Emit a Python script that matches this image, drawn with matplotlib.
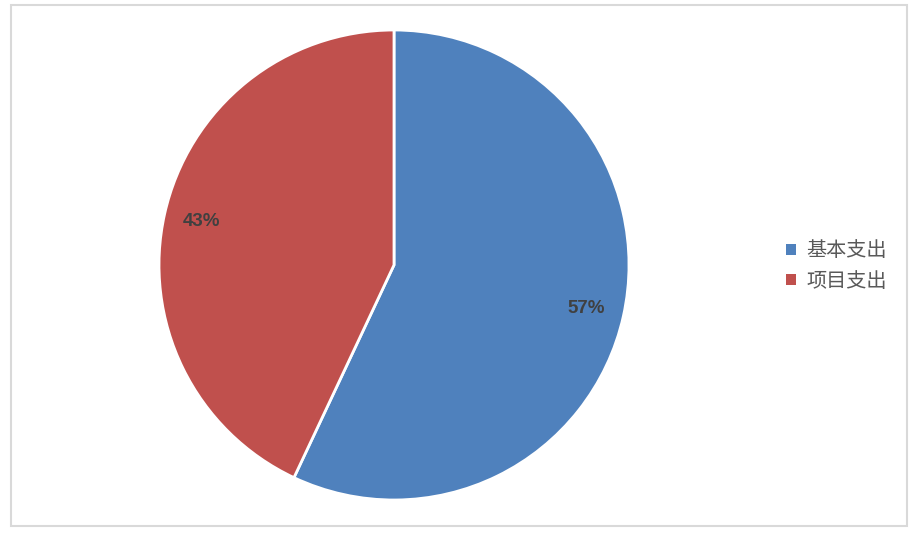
import matplotlib.pyplot as plt
from matplotlib.patches import Rectangle, Patch

plt.rcParams['font.family'] = ['Noto Sans CJK SC', 'DejaVu Sans']

# data
labels = ['基本支出', '项目支出']
values = [57, 43]
colors = ['#4F81BD', '#C0504D']

fig = plt.figure(figsize=(9.22, 5.42), dpi=100)

# outer frame
fig.patches.append(Rectangle((11/922, 1 - 526/542), 896/922, 521/542,
                             transform=fig.transFigure, fill=False,
                             edgecolor='#d9d9d9', linewidth=1.5))

cx, cy, r = 394, 265, 235
ax = fig.add_axes([(cx - r)/922, (542 - cy - r)/542, 2*r/922, 2*r/542])
wedges, texts, autotexts = ax.pie(values, colors=colors, startangle=90, counterclock=False,
                                  autopct='%d%%', pctdistance=0.84, radius=1,
                                  wedgeprops=dict(edgecolor='white', linewidth=2))
for t in autotexts:
    t.set_color('#404040')
    t.set_fontsize(13.5)
    t.set_fontweight('bold')
    t.set_family(['Liberation Sans', 'DejaVu Sans'])
ax.set_xlim(-1.0, 1.0)
ax.set_ylim(-1.0, 1.0)
ax.set_aspect('equal')

handles = [Patch(facecolor=c, edgecolor='none') for c in colors]
fig.legend(handles, labels, loc='center left', bbox_to_anchor=(768/922, 1 - 266/542),
           frameon=False, fontsize=14.5, handlelength=0.5, handleheight=0.5,
           handletextpad=0.5, labelspacing=0.45, labelcolor='#595959')

fig.savefig('out.png', dpi=100)
